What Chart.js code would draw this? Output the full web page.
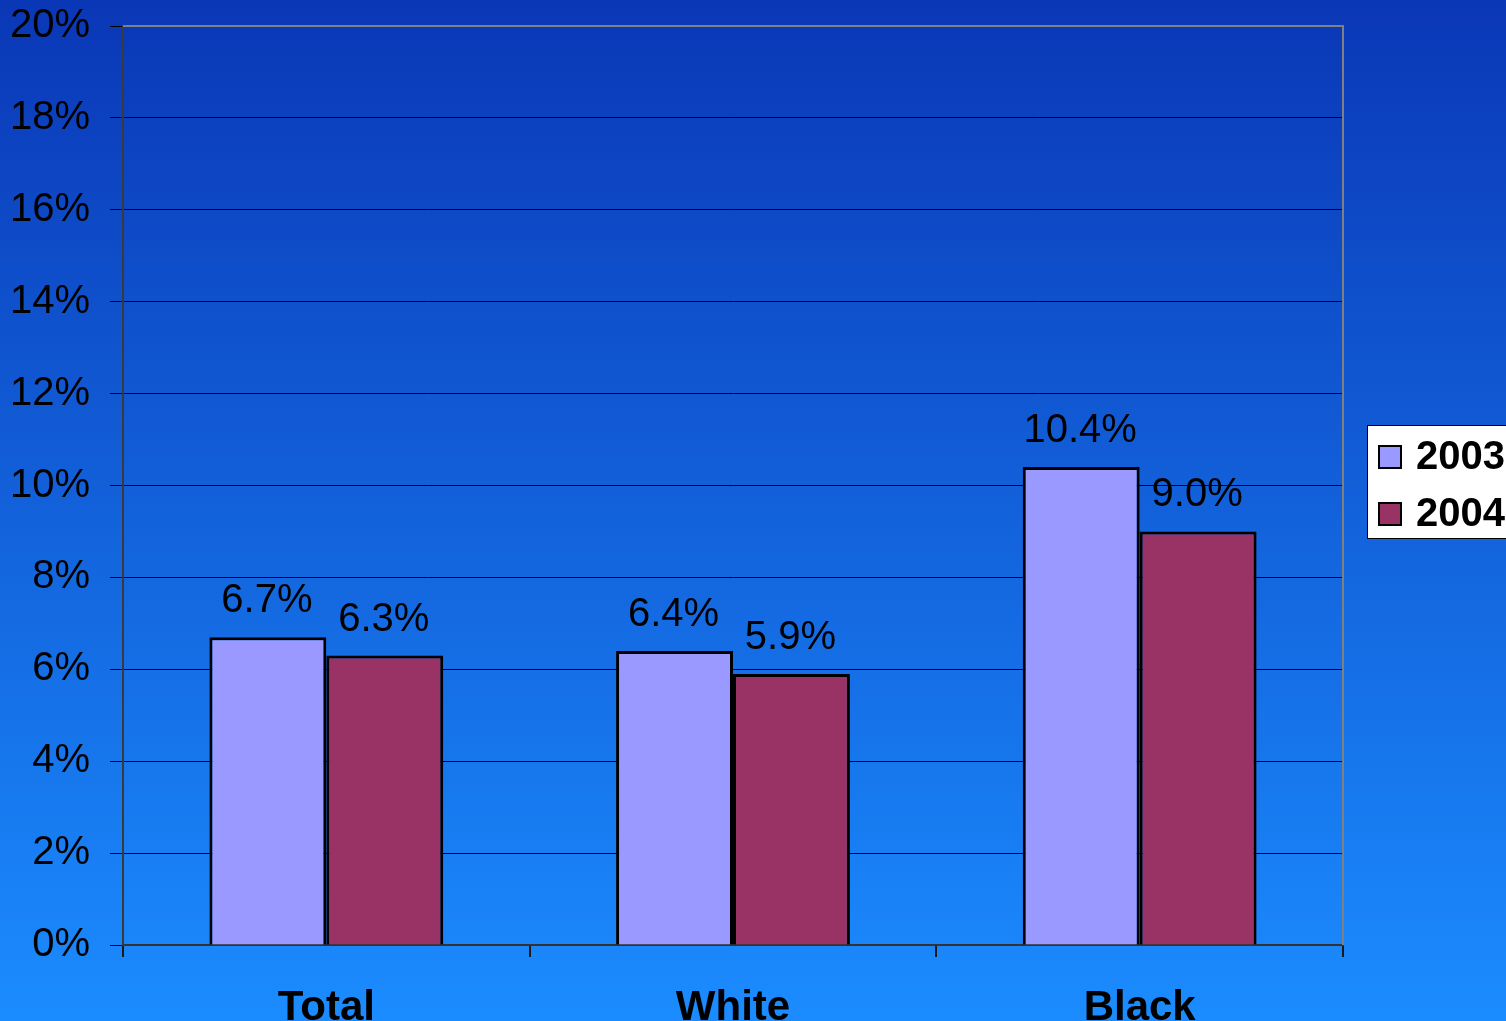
<!DOCTYPE html>
<html>
<head>
<meta charset="utf-8">
<title>2003 vs 2004</title>
<script src="https://cdn.jsdelivr.net/npm/chart.js@4.4.0/dist/chart.umd.min.js"></script>
<style>
  html, body { margin: 0; padding: 0; overflow: hidden; background: #1a8aff; }
  #wrap { width: 1506px; height: 1040px; }
</style>
</head>
<body>
<div id="wrap"><canvas id="chart" width="1506" height="1040"></canvas></div>
<script>
const categories = ['Total', 'White', 'Black'];
const series2003 = [6.7, 6.4, 10.4];
const series2004 = [6.3, 5.9, 9.0];
const yTicks = [0, 2, 4, 6, 8, 10, 12, 14, 16, 18, 20];

const FONT = '"Liberation Sans", Arial, sans-serif';

// gradient backdrop, dark blue on top fading to bright blue
const backdrop = {
    id: 'backdrop',
    beforeDraw(chart) {
        const c = chart.ctx;
        const g = c.createLinearGradient(0, 0, 0, 1021);
        g.addColorStop(0, '#0a37b6');
        g.addColorStop(1, '#1b8cff');
        c.save();
        c.fillStyle = g;
        c.fillRect(0, 0, chart.width, chart.height);
        c.restore();
    }
};

// gray frame on top and right of the plot
const frame = {
    id: 'frame',
    afterDraw(chart) {
        const a = chart.chartArea, c = chart.ctx;
        c.save();
        c.strokeStyle = '#808080';
        c.lineWidth = 2;
        c.beginPath();
        c.moveTo(a.left, a.top);
        c.lineTo(a.right, a.top);
        c.lineTo(a.right, a.bottom);
        c.stroke();
        c.restore();
    }
};

// value labels above each bar
const valueLabels = {
    id: 'valueLabels',
    afterDatasetsDraw(chart) {
        const c = chart.ctx;
        c.save();
        c.font = '40px ' + FONT;
        c.fillStyle = '#000';
        c.textAlign = 'center';
        c.textBaseline = 'alphabetic';
        chart.data.datasets.forEach((ds, i) => {
            chart.getDatasetMeta(i).data.forEach((bar, j) => {
                c.fillText(ds.data[j].toFixed(1) + '%', bar.x - 1, bar.y - 25);
            });
        });
        c.restore();
    }
};

// boxed legend on the right edge
const sideLegend = {
    id: 'sideLegend',
    afterDraw(chart) {
        const c = chart.ctx;
        c.save();
        c.fillStyle = '#fff';
        c.fillRect(1367, 425, 170, 113);
        c.strokeStyle = '#000';
        c.lineWidth = 1;
        c.strokeRect(1367.5, 425.5, 170, 113);
        c.font = 'bold 40px ' + FONT;
        c.textBaseline = 'middle';
        c.textAlign = 'left';
        chart.data.datasets.forEach((ds, i) => {
            const y = 446 + i * 57;
            c.fillStyle = ds.backgroundColor;
            c.fillRect(1379, y, 22, 22);
            c.lineWidth = 2;
            c.strokeRect(1379, y, 22, 22);
            c.fillStyle = '#000';
            c.fillText(ds.label, 1416, y + 12);
        });
        c.restore();
    }
};

new Chart(document.getElementById('chart'), {
    type: 'bar',
    data: {
        labels: categories,
        datasets: [
            { label: '2003', data: series2003, backgroundColor: '#9999ff', borderColor: '#000', borderWidth: 3 },
            { label: '2004', data: series2004, backgroundColor: '#993366', borderColor: '#000', borderWidth: 3 }
        ]
    },
    options: {
        responsive: false,
        animation: false,
        devicePixelRatio: 1,
        layout: { padding: { top: 26, right: 163, left: 0, bottom: 0 } },
        datasets: { bar: { categoryPercentage: 0.575, barPercentage: 1 } },
        plugins: { legend: { display: false }, tooltip: { enabled: false } },
        scales: {
            x: {
                grid: { display: true, drawOnChartArea: false, tickLength: 12, color: '#1a1a1a', lineWidth: 2, offset: true },
                border: { color: '#333', width: 2 },
                ticks: { color: '#000', font: { family: FONT, size: 42, weight: 'bold' }, padding: 26 },
                afterFit(s) { s.height = 95; s.paddingLeft = 0; s.paddingRight = 0; }
            },
            y: {
                min: 0, max: 20,
                afterBuildTicks(s) { s.ticks = yTicks.map(v => ({ value: v })); },
                grid: { color: '#000', lineWidth: 1, tickLength: 13 },
                border: { color: '#3a3a3a', width: 2 },
                ticks: { color: '#000', font: { family: FONT, size: 40 }, padding: 20, callback: v => v + '%' },
                afterFit(s) { s.width = 123; s.paddingTop = 0; s.paddingBottom = 0; }
            }
        }
    },
    plugins: [backdrop, frame, valueLabels, sideLegend]
});
</script>
</body>
</html>
